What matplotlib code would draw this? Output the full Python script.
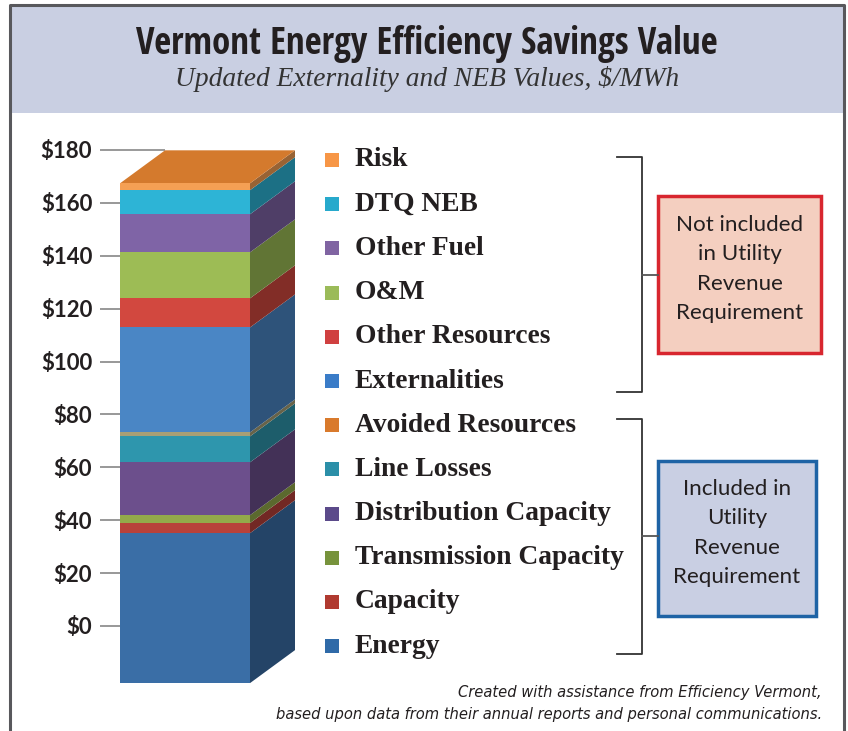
import numpy as np
import matplotlib
matplotlib.use("Agg")
import matplotlib.pyplot as plt
from matplotlib.patches import Rectangle, Polygon
from matplotlib import font_manager as fm

# Savings value components, $/MWh (bottom to top of the stack)
series = ["Energy", "Capacity", "Transmission Capacity", "Distribution Capacity",
          "Line Losses", "Avoided Resources", "Externalities", "Other Resources",
          "O&M", "Other Fuel", "DTQ NEB", "Risk"]
values = [56.7, 3.8, 3.0, 20.0, 9.8, 1.5, 39.7, 11.0, 17.4, 14.4, 9.1, 2.6]
front_colors = ["#3a6ea6", "#b8413a", "#93a94a", "#6c4f8c", "#2e96ad", "#a79f76",
                "#4a86c5", "#d2483f", "#9dbc55", "#7f64a6", "#2db4d6", "#f5a054"]
legend_colors = ["#2f6aa8", "#b03a30", "#77933c", "#5b4a8a", "#2b8fa8", "#d97a2c",
                 "#3a7cc8", "#d04040", "#9bbb59", "#8064a2", "#27a9cc", "#f79646"]
yticks = [0, 20, 40, 60, 80, 100, 120, 140, 160, 180]


def condensed(bold, italic):
    # look for an installed condensed / narrow sans face
    pref = ["Liberation Sans Narrow", "Open Sans", "Noto Sans", "DejaVu Sans", "Roboto"]
    found = []
    for f in fm.fontManager.ttflist:
        narrowish = (str(f.stretch) in ("condensed", "semi-condensed", "extra-condensed")
                     or "Narrow" in f.name or "Condensed" in f.name)
        if not narrowish:
            continue
        w = f.weight if isinstance(f.weight, int) else {"bold": 700, "normal": 400}.get(f.weight, 400)
        is_bold = 600 <= w <= 800
        is_reg = 350 <= w <= 500
        it = f.style in ("italic", "oblique")
        if (is_bold if bold else is_reg) and it == italic:
            rank = next((i for i, p in enumerate(pref) if f.name.startswith(p)), 99)
            found.append((rank, f.fname))
    if found:
        return fm.FontProperties(fname=sorted(found)[0][1])
    return fm.FontProperties(family="Lato", weight="bold" if bold else "normal",
                             style="italic" if italic else "normal")


W, H = 848, 731
fig = plt.figure(figsize=(W / 100, H / 100), dpi=100)
renderer = fig.canvas.get_renderer()


def fit(t, width):
    bb = t.get_window_extent(renderer)
    t.set_fontsize(t.get_fontsize() * width / bb.width)


# decoration layer in pixel coordinates
deco = fig.add_axes([0, 0, 1, 1])
deco.set_xlim(0, W)
deco.set_ylim(H, 0)
deco.axis("off")

deco.add_patch(Rectangle((10, 5), 834, 108, facecolor="#c9cfe2", edgecolor="none"))
deco.plot([10, 10, 844, 844], [H, 5, 5, H], color="#58585c", lw=2.2)

t = deco.text(427, 44, "Vermont Energy Efficiency Savings Value", ha="center", va="center",
              fontproperties=condensed(True, False), fontsize=22, color="#231f20")
fit(t, 580)
t = deco.text(427, 79, "Updated Externality and NEB Values, $/MWh", ha="center", va="center",
              fontsize=18, style="italic", family="Liberation Serif", color="#333333")
fit(t, 505)

# legend, top to bottom
probe = deco.text(0, 0, "Transmission Capacity", fontsize=17, fontweight="bold",
                  family="Liberation Serif")
fit(probe, 270)
leg_size = probe.get_fontsize()
probe.remove()
for i, (name, col) in enumerate(zip(series[::-1], legend_colors[::-1])):
    y = 160 + i * 44.2
    deco.add_patch(Rectangle((325, y - 7), 14, 14, facecolor=col, edgecolor="none"))
    deco.text(355, y, name, ha="left", va="center", fontsize=leg_size, fontweight="bold",
              family="Liberation Serif", color="#231f20")

# brackets
for top, bot, mid in [(157, 392, 275), (419, 654, 536)]:
    deco.plot([617, 642, 642, 617], [top, top, bot, bot], color="#333333", lw=1.3)
    deco.plot([642, 658], [mid, mid], color="#555555", lw=1.3)

probe = deco.text(0, 0, "Requirement", fontsize=15, family="Lato")
fit(probe, 127)
box_size = probe.get_fontsize()
probe.remove()
deco.add_patch(Rectangle((658, 196), 163, 157, facecolor="#f4cfc0", edgecolor="#d8262f", lw=2.5))
deco.text(740, 269, "Not included\nin Utility\nRevenue\nRequirement", ha="center", va="center",
          fontsize=box_size, family="Lato", color="#231f20", linespacing=1.6)
deco.add_patch(Rectangle((658, 461), 158, 155, facecolor="#c9cfe3", edgecolor="#1e63a5", lw=2.5))
deco.text(737, 533, "Included in\nUtility\nRevenue\nRequirement", ha="center", va="center",
          fontsize=box_size, family="Lato", color="#231f20", linespacing=1.6)

foot = condensed(False, True)
t1 = deco.text(822, 693, "Created with assistance from Efficiency Vermont,", ha="right",
               va="center", fontproperties=foot, fontsize=12, color="#231f20")
t2 = deco.text(822, 715, "based upon data from their annual reports and personal communications.",
               ha="right", va="center", fontproperties=foot, fontsize=12, color="#231f20")
fit(t2, 546)
t1.set_fontsize(t2.get_fontsize())

# chart axes: $0 at px 626, $180 at px 150
k = (626 - 150) / 180.0
top_px, bot_px = 120, H
ax = fig.add_axes([120 / W, 0, 200 / W, (bot_px - top_px) / H])
ax.set_ylim((626 - bot_px) / k, (626 - top_px) / k)
ax.set_xlim(0, 200)
ax.patch.set_alpha(0)
for s in ax.spines.values():
    s.set_visible(False)
ax.set_xticks([])
ax.set_yticks(yticks)
ax.set_yticklabels([f"${v}" for v in yticks], fontsize=16, fontweight="bold",
                   family="Lato", color="#231f20")
ax.tick_params(axis="y", length=13, width=1.4, color="#9a9a9a", pad=7)

# pseudo 3-D column
bar_w = 130
depth_x, depth_y = 45, 33 / k
front_drop = 21.6  # oblique projection pushes the front face below the floor
bottoms = np.concatenate([[0], np.cumsum(values)[:-1]]) - front_drop
total = sum(values) - front_drop

ax.hlines(yticks, -20, depth_x, color="#9a9a9a", lw=1.4, zorder=0, clip_on=False)
ax.bar(bar_w / 2, values, bottom=bottoms, width=bar_w, color=front_colors, zorder=3)


def darker(c, f=0.62):
    r, g, b = matplotlib.colors.to_rgb(c)
    return (r * f, g * f, b * f)


for v, b, c in zip(values, bottoms, front_colors):
    ax.add_patch(Polygon([(bar_w, b), (bar_w + depth_x, b + depth_y),
                          (bar_w + depth_x, b + v + depth_y), (bar_w, b + v)],
                         closed=True, facecolor=darker(c), edgecolor="none", zorder=2))
ax.add_patch(Polygon([(0, total), (bar_w, total), (bar_w + depth_x, total + depth_y),
                      (depth_x, total + depth_y)], closed=True,
                     facecolor="#d47a2d", edgecolor="none", zorder=2))

fig.savefig("out.png", dpi=100)
